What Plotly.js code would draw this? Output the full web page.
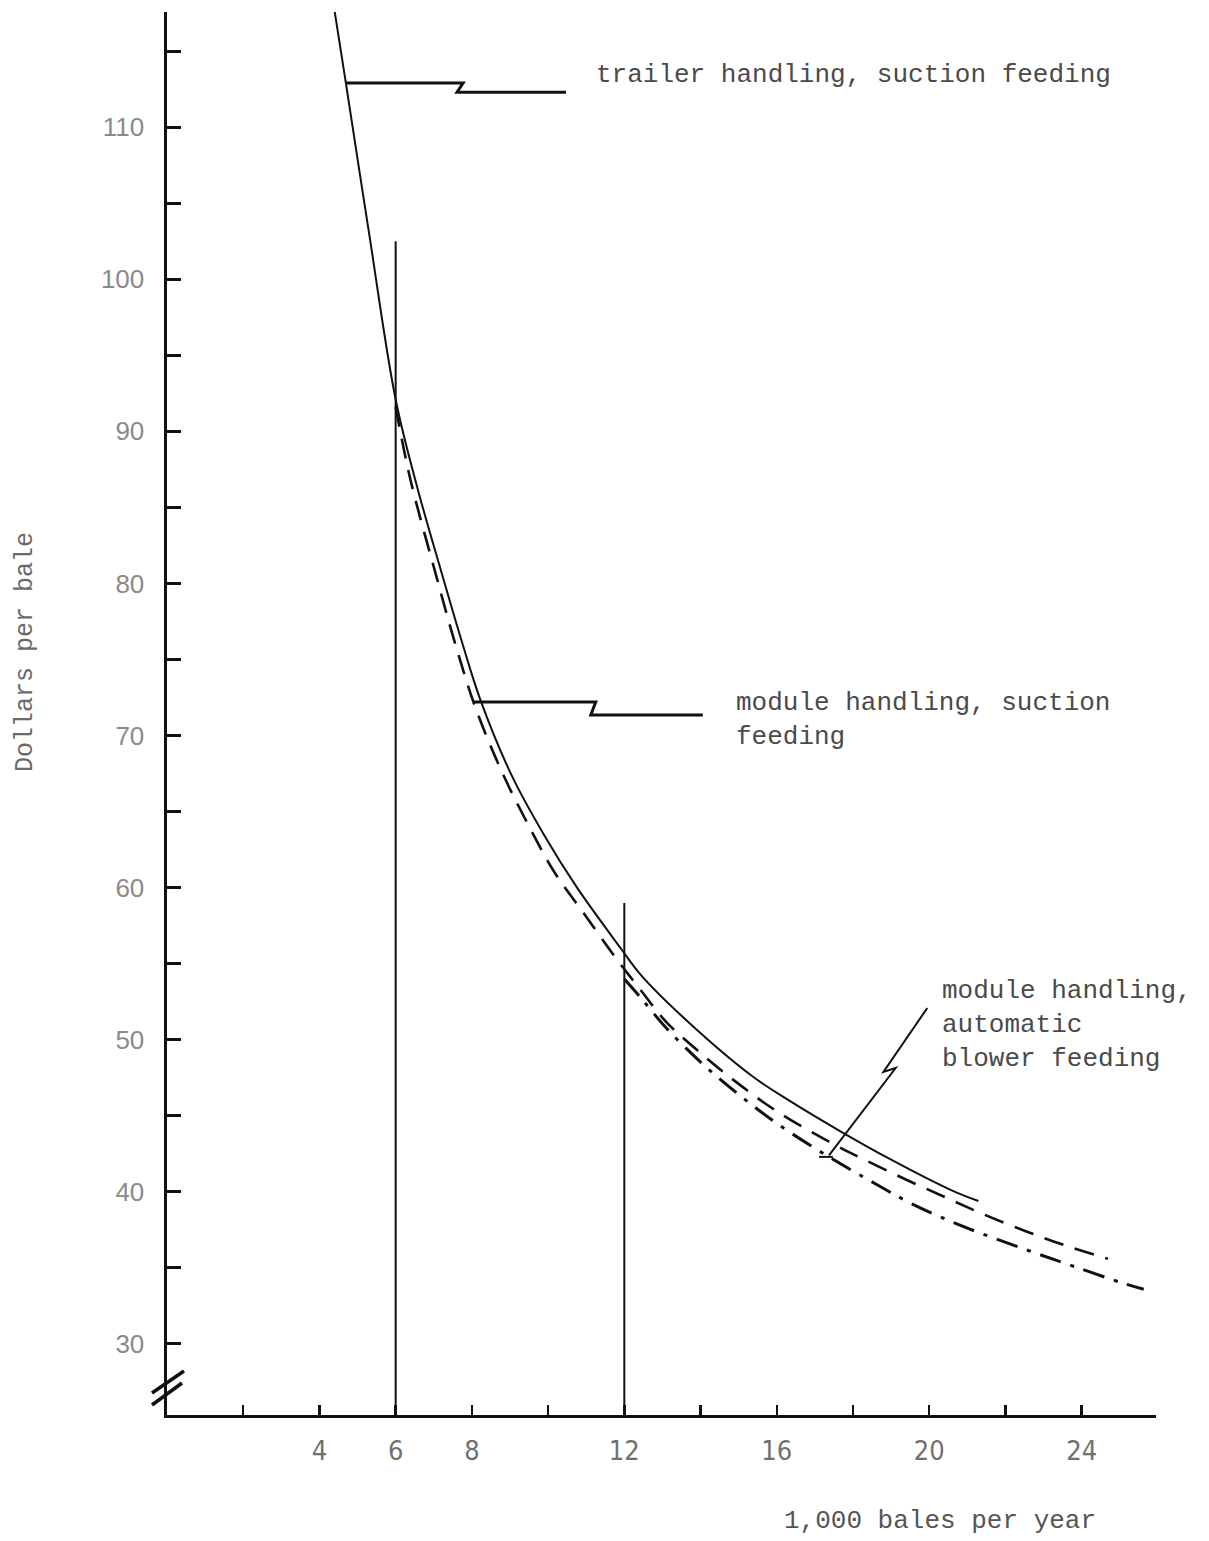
<!DOCTYPE html>
<html>
<head>
<meta charset="utf-8">
<script src="https://cdn.plot.ly/plotly-3.0.1.min.js"></script>
<style>
  html, body { margin: 0; padding: 0; background: #ffffff; }
  #chart { width: 1209px; height: 1541px; }
</style>
</head>
<body>
<div id="chart"></div>
<script>
// ---- data ----
const trailerX = [4.40, 4.70, 5.31, 6.00, 6.58, 7.16, 7.77, 8.23, 9.06, 9.91, 10.76, 11.91, 12.42, 13.62, 15.36, 16.33, 17.66, 18.94, 20.59, 21.29];
const trailerY = [117.6, 112.8, 102.9, 92.1, 86.2, 81.1, 75.9, 72.3, 67.3, 63.4, 60.0, 56.0, 54.3, 51.3, 47.6, 46.0, 44.0, 42.2, 40.1, 39.4];

const moduleSuctionX = [6.00, 6.39, 7.01, 7.59, 8.10, 8.79, 9.57, 10.17, 10.94, 11.80, 12.42, 13.09, 14.06, 15.05, 16.06, 17.37, 18.31, 19.40, 20.46, 21.45, 22.55, 23.54, 24.69];
const moduleSuctionY = [91.6, 86.8, 81.0, 75.8, 71.8, 67.6, 63.7, 61.0, 58.3, 55.3, 53.3, 51.2, 49.0, 47.0, 45.2, 43.3, 42.1, 40.8, 39.6, 38.5, 37.4, 36.5, 35.6];

const moduleBlowerX = [12.00, 12.42, 13.09, 14.06, 15.05, 16.06, 17.37, 18.54, 19.56, 20.92, 22.54, 23.80, 25.08, 25.63];
const moduleBlowerY = [54.0, 52.8, 50.8, 48.4, 46.3, 44.4, 42.3, 40.6, 39.2, 37.7, 36.2, 35.1, 34.0, 33.6];

// vertical reference lines
const refLineX = [6, 12];
const refLineTop = [102.5, 59.0];
const axisBottom = 25.33;

// axis ticks
const yTickVals = [30, 35, 40, 45, 50, 55, 60, 65, 70, 75, 80, 85, 90, 95, 100, 105, 110, 115];
const yTickText = ['30', '', '40', '', '50', '', '60', '', '70', '', '80', '', '90', '', '100', '', '110', ''];
const xTickVals = [2, 4, 6, 8, 10, 12, 14, 16, 18, 20, 22, 24];
const xTickText = ['', '4', '6', '8', '', '12', '', '16', '', '20', '', '24'];

// labels
const labelTrailer = 'trailer handling, suction feeding';
const labelModuleSuction = 'module handling, suction<br>feeding';
const labelModuleBlower = 'module handling,<br>automatic<br>blower feeding';
const yTitle = 'Dollars per bale';
const xTitle = '1,000 bales per year';

// ---- layout geometry ----
const W = 1209, H = 1541;
const M = { l: 167, r: 53, t: 12, b: 126 };
const plotW = W - M.l - M.r, plotH = H - M.t - M.b;
const px2paperX = px => (px - M.l) / plotW;
const px2paperY = py => (H - M.b - py) / plotH;

const mono = '"Liberation Mono", "DejaVu Sans Mono", monospace';
const narrow = '"Liberation Sans Narrow", "DejaVu Sans Condensed", "Liberation Sans", sans-serif';

const traces = [
  { x: trailerX, y: trailerY, type: 'scatter', mode: 'lines', name: 'trailer handling, suction feeding',
    line: { color: '#111', width: 2, shape: 'spline', smoothing: 1 } },
  { x: moduleSuctionX, y: moduleSuctionY, type: 'scatter', mode: 'lines', name: 'module handling, suction feeding',
    line: { color: '#111', width: 2.6, dash: '20px,12px', shape: 'spline', smoothing: 1 } },
  { x: moduleBlowerX, y: moduleBlowerY, type: 'scatter', mode: 'lines', name: 'module handling, automatic blower feeding',
    line: { color: '#111', width: 3, dash: '22px,10px,4px,10px', shape: 'spline', smoothing: 1 } }
];
refLineX.forEach((xv, i) => {
  traces.push({ x: [xv, xv], y: [axisBottom, refLineTop[i]], type: 'scatter', mode: 'lines',
    line: { color: '#111', width: 2 }, hoverinfo: 'skip' });
});

const path = pts => pts.map((p, i) => (i ? 'L' : 'M') + p[0] + ',' + p[1]).join(' ');

const shapes = [
  // leader: trailer
  { type: 'path', xref: 'x', yref: 'y', path: path([[4.70, 112.9], [7.77, 112.9], [7.61, 112.3], [10.47, 112.3]]),
    line: { color: '#111', width: 3 } },
  // leader: module suction
  { type: 'path', xref: 'x', yref: 'y', path: path([[8.02, 72.2], [11.25, 72.2], [11.12, 71.35], [14.06, 71.35]]),
    line: { color: '#111', width: 3 } },
  // leader: module blower
  { type: 'path', xref: 'x', yref: 'y', path: path([[19.95, 52.09], [18.80, 47.88], [19.12, 48.14], [17.37, 42.4]]),
    line: { color: '#111', width: 2 } },
  { type: 'path', xref: 'x', yref: 'y', path: path([[17.11, 42.3], [17.47, 42.3]]),
    line: { color: '#111', width: 2 } },
  // axis break marks
  { type: 'line', xref: 'paper', yref: 'paper', x0: px2paperX(152), y0: px2paperY(1393), x1: px2paperX(184), y1: px2paperY(1371),
    line: { color: '#111', width: 3.5 } },
  { type: 'line', xref: 'paper', yref: 'paper', x0: px2paperX(152), y0: px2paperY(1405), x1: px2paperX(182), y1: px2paperY(1383),
    line: { color: '#111', width: 3.5 } }
];

const annotations = [
  { text: labelTrailer, x: 11.21, y: 113.43, xref: 'x', yref: 'y', xanchor: 'left', yanchor: 'middle',
    showarrow: false, align: 'left', font: { family: mono, size: 26, color: '#4a4a4a' } },
  { text: labelModuleSuction, x: 14.87, y: 71.03, xref: 'x', yref: 'y', xanchor: 'left', yanchor: 'middle',
    showarrow: false, align: 'left', font: { family: mono, size: 26, color: '#4a4a4a' } },
  { text: labelModuleBlower, x: 20.28, y: 50.97, xref: 'x', yref: 'y', xanchor: 'left', yanchor: 'middle',
    showarrow: false, align: 'left', font: { family: mono, size: 26, color: '#4a4a4a' } },
  { text: yTitle, x: px2paperX(25), y: px2paperY(652), xref: 'paper', yref: 'paper', xanchor: 'center', yanchor: 'middle',
    textangle: -90, showarrow: false, font: { family: mono, size: 25, color: '#6a6a6a' } },
  { text: xTitle, x: px2paperX(940), y: px2paperY(1521), xref: 'paper', yref: 'paper', xanchor: 'center', yanchor: 'middle',
    showarrow: false, font: { family: mono, size: 26, color: '#555' } }
];

const layout = {
  width: W, height: H,
  margin: M,
  paper_bgcolor: '#ffffff', plot_bgcolor: '#ffffff',
  showlegend: false,
  xaxis: {
    range: [0, plotW / 38.11], showgrid: false, zeroline: false,
    showline: true, linecolor: '#111', linewidth: 3,
    ticks: 'inside', ticklen: 10, tickwidth: 2.5, tickcolor: '#111',
    tickmode: 'array', tickvals: xTickVals, ticktext: xTickText,
    tickfont: { family: narrow, size: 27, color: '#707070' },
    ticklabelstandoff: 10
  },
  yaxis: {
    range: [axisBottom, axisBottom + plotH / 15.21], showgrid: false, zeroline: false,
    showline: true, linecolor: '#111', linewidth: 3.5,
    ticks: 'inside', ticklen: 14, tickwidth: 3, tickcolor: '#111',
    tickmode: 'array', tickvals: yTickVals, ticktext: yTickText,
    tickfont: { family: '"Liberation Sans", Arial, sans-serif', size: 26, color: '#8a8a8a' },
    ticklabelstandoff: 14
  },
  shapes: shapes,
  annotations: annotations
};

Plotly.newPlot('chart', traces, layout, { displayModeBar: false, staticPlot: true });
</script>
</body>
</html>
